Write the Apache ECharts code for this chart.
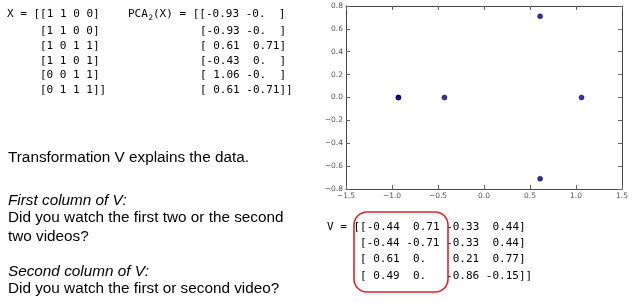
<!DOCTYPE html>
<html>
<head>
<meta charset="utf-8">
<script src="https://cdn.jsdelivr.net/npm/echarts@6/dist/echarts.min.js"></script>
<style>
html,body{margin:0;padding:0;background:#fff;}
#c{width:636px;height:308px;}
</style>
</head>
<body>
<div id="c"></div>
<script>
// Data
const pcaX = [-0.93, -0.93, 0.61, -0.43, 1.06, 0.61];
const pcaY = [-0.0, -0.0, 0.71, 0.0, -0.0, -0.71];
const xTicks = [-1.5, -1.0, -0.5, 0.0, 0.5, 1.0, 1.5];
const yTicks = [-0.8, -0.6, -0.4, -0.2, 0.0, 0.2, 0.4, 0.6, 0.8];
const xRows = ["X = [[1 1 0 0]", "[1 1 0 0]", "[1 0 1 1]", "[1 1 0 1]", "[0 0 1 1]", "[0 1 1 1]]"];
const pcaRows = ["(X) = [[-0.93 -0.  ]", "[-0.93 -0.  ]", "[ 0.61  0.71]", "[-0.43  0.  ]", "[ 1.06 -0.  ]", "[ 0.61 -0.71]]"];
const vRows = ["V = [[-0.44  0.71 -0.33  0.44]", "[-0.44 -0.71 -0.33  0.44]", "[ 0.61  0.    0.21  0.77]", "[ 0.49  0.   -0.86 -0.15]]"];
const proseLines = [
  {t: "Transformation V explains the data.", it: false},
  {t: "First column of V:", it: true},
  {t: "Did you watch the first two or the second", it: false},
  {t: "two videos?", it: false},
  {t: "Second column of V:", it: true},
  {t: "Did you watch the first or second video?", it: false}
];

const chart = echarts.init(document.getElementById('c'), null, {renderer: 'canvas'});
const mono = '11px "DejaVu Sans Mono", "Liberation Mono", monospace';
const sans = '15.3px "Liberation Sans", Arial, sans-serif';
const sansIt = 'italic 15.3px "Liberation Sans", Arial, sans-serif';
const fmt = v => (Math.abs(v) < 1e-9 ? '0.0' : v.toFixed(1).replace('-', '\u2212'));

const graphics = [];
const xRowY = [14, 31, 46, 61, 75.5, 90];
xRows.forEach((r, i) => graphics.push({type: 'text', style: {text: r, x: i === 0 ? 7 : 40, y: xRowY[i], font: mono, fill: '#000', verticalAlign: 'middle'}}));
graphics.push({type: 'text', style: {text: 'PCA', x: 128, y: xRowY[0], font: mono, fill: '#000', verticalAlign: 'middle'}});
graphics.push({type: 'text', style: {text: '2', x: 148.5, y: xRowY[0] + 4, font: '7.5px "DejaVu Sans Mono", monospace', fill: '#000', verticalAlign: 'middle'}});
pcaRows.forEach((r, i) => graphics.push({type: 'text', style: {text: r, x: i === 0 ? 153 : 200, y: xRowY[i], font: mono, fill: '#000', verticalAlign: 'middle'}}));
const vRowY = [227, 243, 259, 276];
vRows.forEach((r, i) => graphics.push({type: 'text', style: {text: r, x: i === 0 ? 327 : 360, y: vRowY[i], font: mono, fill: '#000', verticalAlign: 'middle'}}));
graphics.push({type: 'rect', shape: {x: 354, y: 212, width: 94, height: 80, r: 13}, style: {fill: 'none', stroke: '#e3232b', lineWidth: 1.6}});
const proseY = [158, 201, 218, 237, 272, 289];
proseLines.forEach((p, i) => graphics.push({type: 'text', style: {text: p.t, x: 8, y: proseY[i], font: p.it ? sansIt : sans, fill: '#000', verticalAlign: 'middle'}}));

const axLine = {show: true, onZero: false, lineStyle: {color: '#444', width: 1}};
const tick = {show: true, inside: true, length: 4, lineStyle: {color: '#666'}};
const lbl = {color: '#555', fontSize: 7.5, fontFamily: '"DejaVu Sans", sans-serif', formatter: fmt};

chart.setOption({
  animation: false,
  backgroundColor: '#fff',
  grid: {left: 346, top: 6, right: 14, bottom: 119, containLabel: false},
  xAxis: [
    {type: 'value', min: xTicks[0], max: xTicks[xTicks.length - 1], interval: 0.5, position: 'bottom',
     axisLine: axLine, axisTick: tick, splitLine: {show: false}, axisLabel: Object.assign({margin: 3}, lbl)},
    {type: 'value', min: xTicks[0], max: xTicks[xTicks.length - 1], interval: 0.5, position: 'top',
     axisLine: axLine, axisTick: tick, splitLine: {show: false}, axisLabel: {show: false}}
  ],
  yAxis: [
    {type: 'value', min: yTicks[0], max: yTicks[yTicks.length - 1], interval: 0.2, position: 'left',
     axisLine: axLine, axisTick: tick, splitLine: {show: false}, axisLabel: Object.assign({margin: 3}, lbl)},
    {type: 'value', min: yTicks[0], max: yTicks[yTicks.length - 1], interval: 0.2, position: 'right',
     axisLine: axLine, axisTick: tick, splitLine: {show: false}, axisLabel: {show: false}}
  ],
  series: [{
    type: 'scatter', xAxisIndex: 0, yAxisIndex: 0,
    data: pcaX.map((x, i) => [x, pcaY[i]]),
    symbol: 'circle', symbolSize: 5,
    itemStyle: {color: '#00008f', borderColor: '#000033', borderWidth: 0.6}
  }],
  graphic: graphics
});
</script>
</body>
</html>
